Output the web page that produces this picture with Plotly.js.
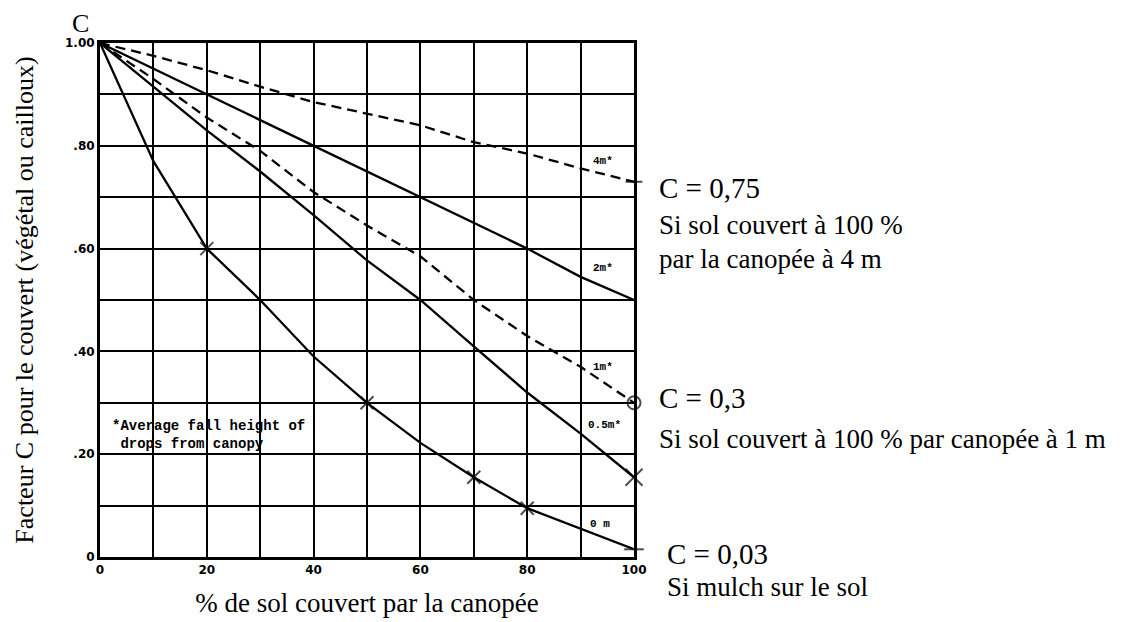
<!DOCTYPE html>
<html>
<head>
<meta charset="utf-8">
<script src="https://cdn.plot.ly/plotly-3.0.1.min.js"></script>
<style>
  html, body { margin: 0; padding: 0; background: #fff; }
  #plot { width: 1136px; height: 622px; }
</style>
</head>
<body>
<div id="plot"></div>
<script>
// % de sol couvert par la canopée
var pctCover = [0, 10, 20, 30, 40, 50, 60, 70, 80, 90, 100];

// facteur C selon la hauteur de chute des gouttes
var c4m  = [1, 0.975, 0.947, 0.915, 0.885, 0.863, 0.84, 0.807, 0.785, 0.756, 0.73];
var c2m  = [1, 0.95, 0.9, 0.85, 0.8, 0.75, 0.7, 0.65, 0.6, 0.545, 0.5];
var c1m  = [1, 0.93, 0.855, 0.79, 0.71, 0.645, 0.585, 0.5, 0.43, 0.37, 0.3];
var c05m = [1, 0.915, 0.83, 0.75, 0.665, 0.577, 0.5, 0.41, 0.32, 0.24, 0.155];
var c0m  = [1, 0.77, 0.6, 0.5, 0.39, 0.3, 0.222, 0.155, 0.095, 0.055, 0.015];

// points marqués d'une croix sur la courbe 0 m
var crossedAt = [20, 50, 70, 80];

var xTicks = [0, 10, 20, 30, 40, 50, 60, 70, 80, 90, 100];
var xTickText = ['0', '', '20', '', '40', '', '60', '', '80', '', '100'];
var yTicks = [0, 0.1, 0.2, 0.3, 0.4, 0.5, 0.6, 0.7, 0.8, 0.9, 1];
var yTickText = ['0', '', '.20', '', '.40', '', '.60', '', '.80', '', '1.00'];

var serif = 'Liberation Serif, Times New Roman, serif';
var mono = 'Liberation Mono, DejaVu Sans Mono, monospace';

function curve(y, dashed) {
  return {
    x: pctCover, y: y, type: 'scatter', mode: 'lines',
    line: {color: 'black', width: 2.3, dash: dashed ? '10px,6px' : 'solid'},
    hoverinfo: 'skip'
  };
}

var mulch = curve(c0m, false);
mulch.mode = 'lines+markers';
mulch.marker = {
  symbol: 'x-thin-open',
  size: pctCover.map(function (p) { return crossedAt.indexOf(p) >= 0 ? 13 : 0; }),
  line: {color: 'black', width: 2}
};

var last = pctCover.length - 1;
var ends = {
  x: [100, 100, 100, 100],
  y: [c4m[last], c1m[last], c05m[last], c0m[last]],
  type: 'scatter', mode: 'markers', cliponaxis: false, hoverinfo: 'skip',
  marker: {
    symbol: ['line-ew', 'circle-open', 'x-thin-open', 'line-ew'],
    size: [12, 13, 17, 14],
    color: 'black',
    line: {color: 'black', width: 2}
  }
};

var data = [curve(c4m, true), curve(c2m, false), curve(c1m, true), curve(c05m, false), mulch, ends];

function note(x, y, text, size) {
  return {xref: 'paper', yref: 'paper', x: x, y: y, text: text, showarrow: false,
          xanchor: 'left', yanchor: 'middle', align: 'left',
          font: {family: serif, size: size || 27, color: 'black'}};
}
function tag(x, y, text) {
  return {xref: 'x', yref: 'y', x: x, y: y, text: text, showarrow: false,
          yanchor: 'middle', font: {family: mono, size: 11, weight: 'bold', color: 'black'}};
}

var layout = {
  width: 1136, height: 622,
  margin: {l: 100, r: 502, t: 43, b: 65},
  paper_bgcolor: 'white', plot_bgcolor: 'white',
  showlegend: false,
  xaxis: {
    range: [0, 100], tickvals: xTicks, ticktext: xTickText,
    showline: true, mirror: true, linecolor: 'black', linewidth: 3,
    showgrid: true, gridcolor: 'black', gridwidth: 2, zeroline: false,
    ticks: '', tickfont: {family: 'DejaVu Sans', size: 12, weight: 'bold', color: 'black'},
    title: {text: '% de sol couvert par la canopée', standoff: 17,
            font: {family: serif, size: 27, color: 'black'}}
  },
  yaxis: {
    range: [0, 1], tickvals: yTicks, ticktext: yTickText,
    showline: true, mirror: true, linecolor: 'black', linewidth: 3,
    showgrid: true, gridcolor: 'black', gridwidth: 2, zeroline: false,
    ticks: '', tickfont: {family: 'DejaVu Sans', size: 12, weight: 'bold', color: 'black'},
    title: {text: 'Facteur C pour le couvert (végétal ou cailloux)', standoff: 24,
            font: {family: serif, size: 26, color: 'black'}}
  },
  annotations: [
    {xref: 'paper', yref: 'paper', x: -0.037, y: 1.038, xanchor: 'center', yanchor: 'middle',
     text: 'C', showarrow: false, font: {family: serif, size: 26, color: 'black'}},
    note(1.043, 0.717, 'C = 0,75', 29),
    note(1.043, 0.645, 'Si sol couvert à 100 %'),
    note(1.043, 0.579, 'par la canopée à 4 m'),
    note(1.043, 0.31, 'C = 0,3', 29),
    note(1.043, 0.23, 'Si sol couvert à 100 % par canopée à 1 m'),
    note(1.058, 0.006, 'C = 0,03', 29),
    note(1.058, -0.058, 'Si mulch sur le sol'),
    tag(94.2, 0.77, '4m*'),
    tag(94.2, 0.563, '2m*'),
    tag(94.2, 0.37, '1m*'),
    tag(94.5, 0.256, '0.5m*'),
    tag(93.6, 0.064, '0 m'),
    {xref: 'x', yref: 'y', x: 1.8, y: 0.237, xanchor: 'left', yanchor: 'middle', align: 'left',
     showarrow: false, text: '*Average fall height of<br> drops from canopy',
     font: {family: mono, size: 14, weight: 'bold', color: 'black'}}
  ]
};

Plotly.newPlot('plot', data, layout, {staticPlot: true});
</script>
</body>
</html>
